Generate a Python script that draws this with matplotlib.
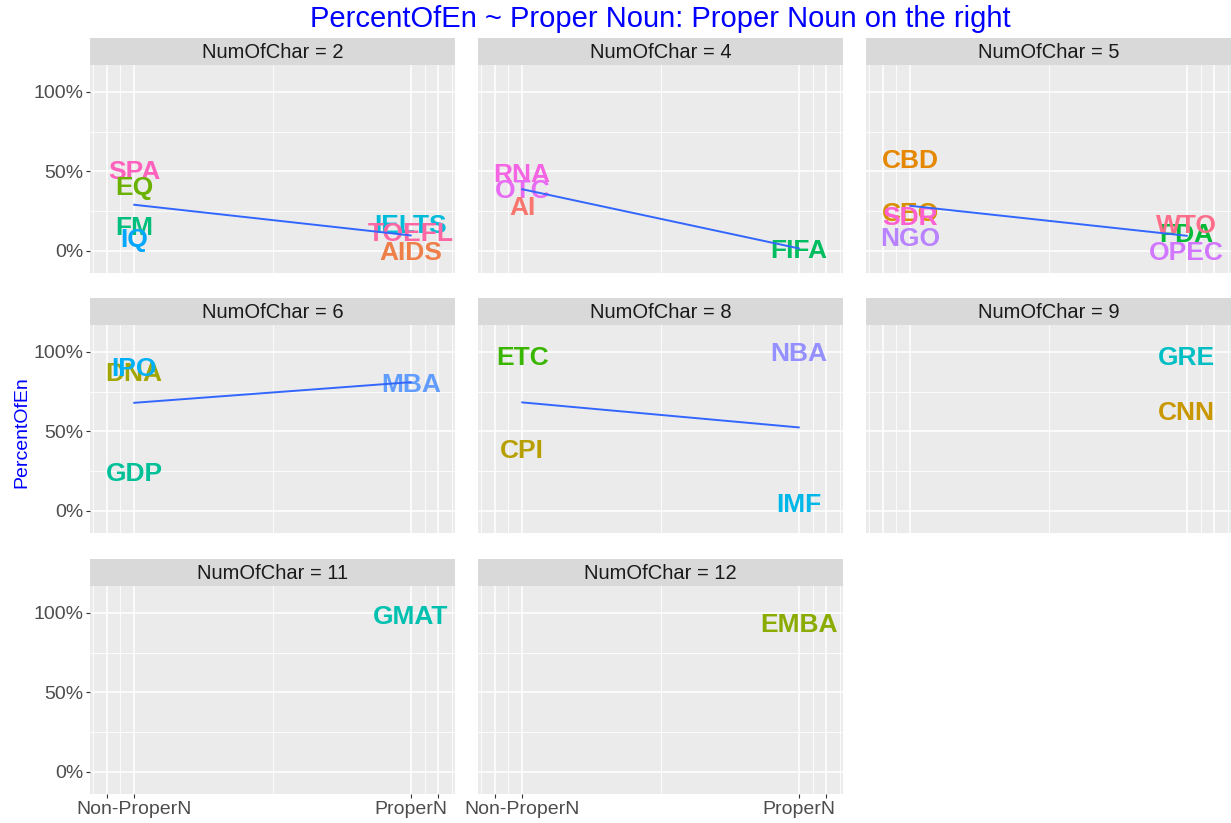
import numpy as np
import matplotlib
matplotlib.use("Agg")
import matplotlib.pyplot as plt

plt.rcParams['font.family'] = ['Liberation Sans', 'DejaVu Sans']

# data: word, number of chars, proper noun (0/1), percent of English
words = ["SPA", "EQ", "FM", "IQ", "IELTS", "TOEFL", "AIDS",
         "RNA", "OTC", "AI", "FIFA",
         "CBD", "CEO", "SDR", "NGO", "FDA", "WTO", "OPEC",
         "DNA", "IPO", "GDP", "MBA",
         "ETC", "CPI", "NBA", "IMF",
         "GRE", "CNN",
         "GMAT",
         "EMBA"]
num_char = [2, 2, 2, 2, 2, 2, 2,
            4, 4, 4, 4,
            5, 5, 5, 5, 5, 5, 5,
            6, 6, 6, 6,
            8, 8, 8, 8,
            9, 9,
            11,
            12]
proper = [0, 0, 0, 0, 1, 1, 1,
          0, 0, 0, 1,
          0, 0, 0, 0, 1, 1, 1,
          0, 0, 0, 1,
          0, 0, 1, 1,
          1, 1,
          1,
          1]
pct_en = [0.51, 0.41, 0.157, 0.082, 0.17, 0.12, 0.0,
          0.49, 0.39, 0.283, 0.015,
          0.58, 0.245, 0.22, 0.088, 0.113, 0.17, 0.0,
          0.88, 0.91, 0.25, 0.81,
          0.975, 0.39, 1.0, 0.05,
          0.98, 0.633,
          0.99,
          0.94]
panels = [2, 4, 5, 6, 8, 9, 11, 12]

x_breaks = [-0.1, 0, 1, 1.1]
x_labels = ["", "Non-ProperN", "ProperN", ""]
x_minor = [-0.15, -0.05, 0.5, 1.05, 1.15]
y_breaks = [0, 0.5, 1]
y_labels = ["0%", "50%", "100%"]
y_minor = [0.25, 0.75]


def hcl_to_hex(h, c=100, l=65):
    # polarLUV -> sRGB, like scales::hue_pal
    xn, yn, zn = 95.047, 100.0, 108.883
    un = 4 * xn / (xn + 15 * yn + 3 * zn)
    vn = 9 * yn / (xn + 15 * yn + 3 * zn)
    u = c * np.cos(np.radians(h))
    v = c * np.sin(np.radians(h))
    Y = yn * ((l + 16) / 116) ** 3
    up = u / (13 * l) + un
    vp = v / (13 * l) + vn
    X = 9 * Y * up / (4 * vp)
    Z = -X / 3 - 5 * Y + 3 * Y / vp
    m = np.array([[3.2404542, -1.5371385, -0.4985314],
                  [-0.9692660, 1.8760108, 0.0415560],
                  [0.0556434, -0.2040259, 1.0572252]])
    rgb = m @ (np.array([X, Y, Z]) / 100)
    rgb = np.where(rgb <= 0.0031308, 12.92 * rgb, 1.055 * np.clip(rgb, 0, None) ** (1 / 2.4) - 0.055)
    rgb = np.clip(rgb, 0, 1)
    return matplotlib.colors.to_hex(rgb)


levels = sorted(set(words))
hues = np.linspace(15, 375, len(levels) + 1)[:-1]
word_col = {w: hcl_to_hex(h) for w, h in zip(levels, hues)}

W, H = 1231, 823
fig = plt.figure(figsize=(W / 100, H / 100), dpi=100)

col_x = [90, 478, 866]
row_top = [65, 325, 586]
pw, ph, sh = 365, 208, 27

for i, nc in enumerate(panels):
    r, c = divmod(i, 3)
    x0, top = col_x[c], row_top[r]
    ax = fig.add_axes([x0 / W, 1 - (top + ph) / H, pw / W, ph / H])
    ax.set_facecolor("#EBEBEB")
    for s in ax.spines.values():
        s.set_visible(False)
    ax.set_xlim(-0.16, 1.16)
    ax.set_ylim(-0.14, 1.17)
    for xv in x_minor:
        ax.axvline(xv, color="white", lw=0.6, zorder=0)
    for yv in y_minor:
        ax.axhline(yv, color="white", lw=0.6, zorder=0)
    for xv in x_breaks:
        ax.axvline(xv, color="white", lw=1.1, zorder=0)
    for yv in y_breaks:
        ax.axhline(yv, color="white", lw=1.1, zorder=0)

    ax.set_xticks(x_breaks)
    ax.set_yticks(y_breaks)
    ax.tick_params(length=3, width=0.8, color="#333333", labelcolor="#4D4D4D",
                   labelsize=14, pad=2)
    if c == 0:
        ax.set_yticklabels(y_labels)
    else:
        ax.tick_params(axis="y", length=0, labelleft=False)
    if r == 2:
        ax.set_xticklabels(x_labels)
    else:
        ax.tick_params(axis="x", length=0, labelbottom=False)

    idx = [k for k in range(len(words)) if num_char[k] == nc]
    for z, k in enumerate(idx):
        ax.text(proper[k], pct_en[k], words[k], color=word_col[words[k]],
                fontsize=19, fontweight="bold", ha="center", va="center_baseline",
                zorder=2 + z * 0.01)

    xs = np.array([proper[k] for k in idx], dtype=float)
    ys = np.array([pct_en[k] for k in idx])
    if len(set(xs)) > 1:
        b, a = np.polyfit(xs, ys, 1)
        xl = np.array([xs.min(), xs.max()])
        ax.plot(xl, a + b * xl, color="#3366FF", lw=1.4, zorder=3)

    sax = fig.add_axes([x0 / W, 1 - top / H, pw / W, sh / H])
    sax.set_facecolor("#D9D9D9")
    sax.set_xticks([])
    sax.set_yticks([])
    for s in sax.spines.values():
        s.set_visible(False)
    sax.text(0.5, 0.48, "NumOfChar = %d" % nc, ha="center", va="center",
             fontsize=14.5, color="#1A1A1A", transform=sax.transAxes)

fig.text(660 / W, 1 - 19 / H, "PercentOfEn ~ Proper Noun: Proper Noun on the right",
         ha="center", va="center", fontsize=21, color="blue")
fig.text(22 / W, 1 - 432 / H, "PercentOfEn", rotation=90, ha="center", va="center",
         fontsize=14, color="blue")

fig.savefig("out.png", dpi=100)
